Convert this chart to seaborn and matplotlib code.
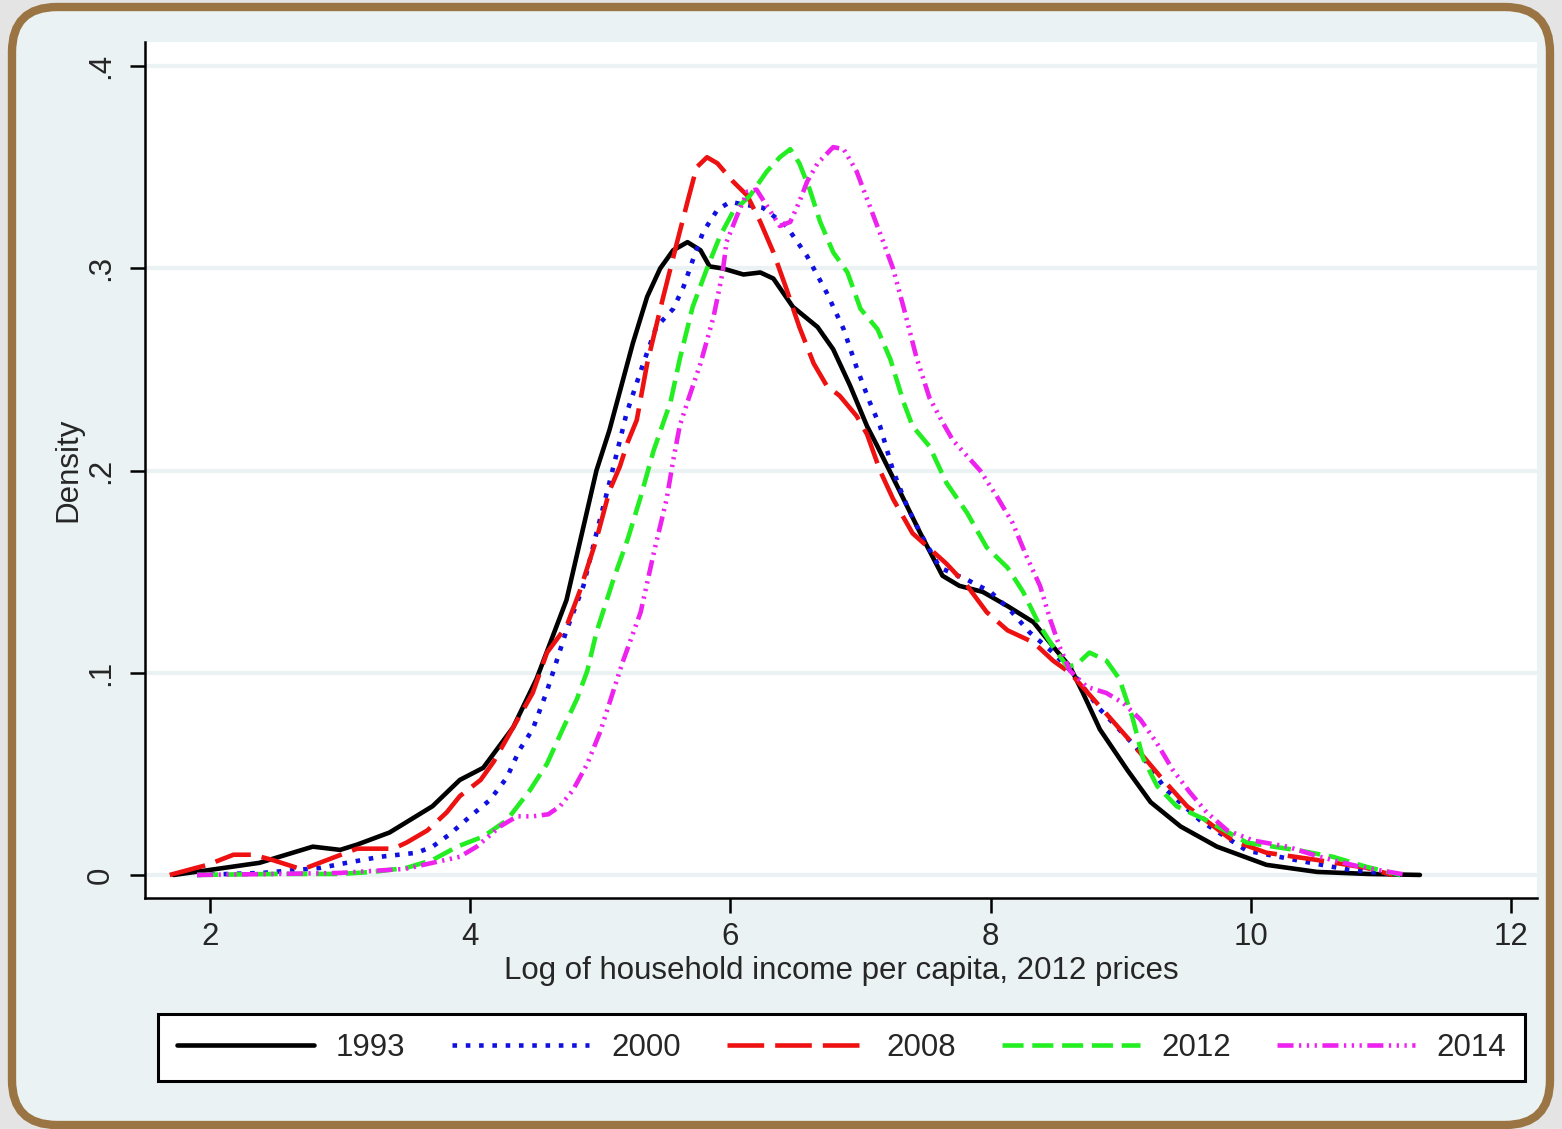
import matplotlib
matplotlib.use("Agg")
import matplotlib.pyplot as plt
from matplotlib.patches import FancyBboxPatch
import seaborn as sns
import pandas as pd

# ---- data (log income, density) ----
x1993 = [1.72, 2.0, 2.38, 2.79, 3.0, 3.13, 3.38, 3.71, 3.92, 4.10, 4.33, 4.51, 4.74, 4.97, 5.07,
         5.25, 5.36, 5.46, 5.56, 5.67, 5.77, 5.84, 5.94, 6.10, 6.23, 6.33, 6.48, 6.67, 6.79, 6.92,
         7.05, 7.13, 7.30, 7.46, 7.63, 7.76, 7.94, 8.13, 8.33, 8.48, 8.61, 8.71, 8.84, 9.05, 9.23,
         9.46, 9.74, 10.12, 10.51, 10.9, 11.30]
y1993 = [0.0, 0.0025, 0.006, 0.014, 0.0124, 0.015, 0.021, 0.034, 0.047, 0.053, 0.073, 0.097, 0.136, 0.2, 0.22,
         0.263, 0.286, 0.30, 0.309, 0.313, 0.309, 0.301, 0.30, 0.297, 0.298, 0.295, 0.281, 0.271, 0.26, 0.242,
         0.222, 0.212, 0.19, 0.169, 0.148, 0.143, 0.14, 0.133, 0.125, 0.113, 0.103, 0.090, 0.072, 0.052, 0.036,
         0.024, 0.014, 0.005, 0.0015, 0.0005, 0.0]

x2000 = [1.9, 2.4, 2.85, 3.05, 3.31, 3.59, 3.71, 3.84, 4.0, 4.15, 4.28, 4.38, 4.48, 4.59, 4.74, 4.87,
         4.97, 5.07, 5.17, 5.20, 5.33, 5.43, 5.56, 5.64, 5.71, 5.79, 5.90, 6.0, 6.07, 6.25, 6.43, 6.59,
         6.74, 6.87, 6.97, 7.07, 7.15, 7.25, 7.36, 7.46, 7.61, 7.82, 8.0, 8.15, 8.30, 8.48, 8.63, 8.84,
         9.12, 9.35, 9.61, 9.97, 10.46, 10.76, 11.15]
y2000 = [0.0, 0.001, 0.0035, 0.006, 0.009, 0.011, 0.014, 0.020, 0.029, 0.037, 0.048, 0.062, 0.072, 0.091, 0.121, 0.143,
         0.169, 0.194, 0.22, 0.228, 0.253, 0.271, 0.28, 0.291, 0.304, 0.318, 0.329, 0.333, 0.332, 0.33, 0.321, 0.306,
         0.288, 0.27, 0.251, 0.234, 0.222, 0.2, 0.182, 0.169, 0.152, 0.146, 0.14, 0.131, 0.12, 0.11, 0.1, 0.082,
         0.063, 0.042, 0.027, 0.012, 0.006, 0.0025, 0.0]

x2008 = [1.69, 1.98, 2.18, 2.33, 2.48, 2.67, 2.74, 2.90, 3.13, 3.41, 3.51, 3.67, 3.82, 3.92, 4.08, 4.18,
         4.33, 4.48, 4.59, 4.74, 4.84, 4.97, 5.07, 5.15, 5.21, 5.28, 5.36, 5.48, 5.59, 5.67, 5.74, 5.82,
         5.90, 6.02, 6.13, 6.23, 6.33, 6.43, 6.53, 6.64, 6.74, 6.84, 6.97, 7.05, 7.15, 7.25, 7.40, 7.66,
         7.82, 7.97, 8.13, 8.33, 8.48, 8.61, 8.79, 9.05, 9.30, 9.51, 9.86, 10.12, 10.51, 10.89, 11.09]
y2008 = [0.0, 0.005, 0.01, 0.01, 0.0074, 0.0035, 0.0035, 0.0074, 0.013, 0.013, 0.016, 0.022, 0.031, 0.039, 0.047, 0.056,
         0.073, 0.09, 0.11, 0.123, 0.14, 0.166, 0.19, 0.202, 0.214, 0.225, 0.253, 0.285, 0.313, 0.333, 0.35, 0.355,
         0.352, 0.343, 0.336, 0.323, 0.308, 0.29, 0.271, 0.253, 0.242, 0.237, 0.227, 0.218, 0.2, 0.186, 0.169, 0.154,
         0.143, 0.13, 0.121, 0.115, 0.106, 0.1, 0.087, 0.068, 0.049, 0.034, 0.017, 0.011, 0.0074, 0.0035, 0.0]

x2012 = [1.9, 2.5, 3.0, 3.25, 3.51, 3.71, 3.90, 4.10, 4.28, 4.46, 4.59, 4.71, 4.82, 4.90, 4.97, 5.10,
         5.21, 5.31, 5.41, 5.54, 5.61, 5.71, 5.82, 5.92, 6.02, 6.15, 6.28, 6.38, 6.46, 6.53, 6.61, 6.69,
         6.79, 6.90, 7.0, 7.13, 7.23, 7.33, 7.40, 7.53, 7.66, 7.82, 7.97, 8.13, 8.25, 8.38, 8.48, 8.59,
         8.66, 8.76, 8.89, 8.99, 9.09, 9.17, 9.28, 9.43, 9.66, 9.97, 10.38, 10.63, 10.89, 11.15]
y2012 = [0.0, 0.0005, 0.0005, 0.0015, 0.0035, 0.0074, 0.014, 0.019, 0.027, 0.042, 0.055, 0.072, 0.087, 0.101, 0.12, 0.146,
         0.166, 0.187, 0.21, 0.234, 0.255, 0.281, 0.30, 0.316, 0.328, 0.336, 0.348, 0.355, 0.359, 0.352, 0.339, 0.323,
         0.308, 0.298, 0.28, 0.27, 0.255, 0.234, 0.222, 0.212, 0.194, 0.179, 0.162, 0.152, 0.14, 0.123, 0.113, 0.103,
         0.104, 0.11, 0.106, 0.097, 0.078, 0.058, 0.044, 0.034, 0.027, 0.016, 0.012, 0.009, 0.004, 0.0]

x2014 = [1.9, 2.5, 3.0, 3.5, 3.92, 4.05, 4.23, 4.36, 4.48, 4.60, 4.69, 4.79, 4.90, 5.0, 5.10, 5.17,
         5.31, 5.41, 5.51, 5.56, 5.61, 5.67, 5.77, 5.87, 5.94, 5.97, 6.05, 6.13, 6.20, 6.28, 6.38, 6.46,
         6.53, 6.59, 6.67, 6.79, 6.87, 6.97, 7.07, 7.17, 7.25, 7.33, 7.43, 7.53, 7.63, 7.71, 7.92, 8.05,
         8.17, 8.28, 8.38, 8.46, 8.53, 8.61, 8.74, 8.89, 9.02, 9.15, 9.28, 9.40, 9.53, 9.66, 9.82, 10.02,
         10.28, 10.53, 10.84, 11.2]
y2014 = [0.0, 0.0005, 0.001, 0.003, 0.009, 0.014, 0.024, 0.029, 0.029, 0.030, 0.034, 0.042, 0.055, 0.071, 0.091, 0.105,
         0.13, 0.159, 0.186, 0.205, 0.222, 0.234, 0.253, 0.276, 0.298, 0.313, 0.326, 0.338, 0.339, 0.331, 0.321, 0.323,
         0.333, 0.343, 0.352, 0.36, 0.359, 0.348, 0.331, 0.314, 0.30, 0.281, 0.256, 0.236, 0.224, 0.215, 0.2, 0.187,
         0.174, 0.157, 0.143, 0.126, 0.113, 0.101, 0.093, 0.09, 0.085, 0.077, 0.065, 0.052, 0.041, 0.031, 0.022, 0.017,
         0.014, 0.009, 0.004, 0.0]

years = ["1993", "2000", "2008", "2012", "2014"]
xs = [x1993, x2000, x2008, x2012, x2014]
ys = [y1993, y2000, y2008, y2012, y2014]

yticks = [0, 0.1, 0.2, 0.3, 0.4]
ytick_labels = ["0", ".1", ".2", ".3", ".4"]
xticks = [2, 4, 6, 8, 10, 12]

# ---- styling ----
colors = {"1993": "#000000", "2000": "#1010e0", "2008": "#ee1111", "2012": "#22ee22", "2014": "#ee22ee"}
dash_map = {
    "1993": None,
    "2000": (1.0, 1.9),
    "2008": (8.0, 2.4),
    "2012": (4.6, 1.9),
    "2014": (3.5, 1.2, 0.5, 1.2, 0.5, 1.2, 0.5, 1.2),
}
FS = 22.5

sns.set_style("white")
plt.rcParams['font.family'] = ['Liberation Sans', 'DejaVu Sans']

fig = plt.figure(figsize=(15.62, 11.29), dpi=100)
fig.patch.set_facecolor("#e4e4e4")

W, H = 15.62, 11.29
border = FancyBboxPatch((0.12, 0.04), W - 0.24, H - 0.11,
                        boxstyle="round,pad=0,rounding_size=0.45",
                        transform=fig.dpi_scale_trans, facecolor="#eaf2f3",
                        edgecolor="#9a7442", linewidth=6, zorder=-10)
fig.add_artist(border)

ax = fig.add_axes([145 / 1562, 1 - 898 / 1129, (1537 - 145) / 1562, (898 - 42) / 1129])
ax.set_zorder(1)
ax.set_facecolor("white")

df = pd.concat([pd.DataFrame({"x": x, "y": y, "year": yr}) for x, y, yr in zip(xs, ys, years)],
               ignore_index=True)

for yr in years:
    sub = df[df["year"] == yr]
    sns.lineplot(data=sub, x="x", y="y", ax=ax, color=colors[yr], lw=3.3,
                 estimator=None, sort=False, label=yr, zorder=3)
    line = ax.get_lines()[-1]
    if dash_map[yr] is not None:
        line.set_dashes(dash_map[yr])
    line.set_dash_capstyle("butt")

ax.set_xlim(1.5, 12.2)
ax.set_ylim(-0.0114, 0.412)
ax.set_xticks(xticks)
ax.set_yticks(yticks)
ax.set_yticklabels(ytick_labels)
ax.grid(axis="y", color="#eaf2f3", lw=3, zorder=0)
ax.grid(axis="x", visible=False)
ax.set_axisbelow(True)

for s in ["top", "right"]:
    ax.spines[s].set_visible(False)
for s in ["left", "bottom"]:
    ax.spines[s].set_color("black")
    ax.spines[s].set_linewidth(1.8)

ax.tick_params(axis="both", which="major", direction="out", length=11, width=1.8,
               color="black", labelsize=FS, left=True, bottom=True)
ax.tick_params(axis="y", labelrotation=90, pad=10)
ax.tick_params(axis="x", pad=6)
for t in ax.get_yticklabels():
    t.set_va("center")

ax.set_xlabel("Log of household income per capita, 2012 prices", fontsize=FS, labelpad=3)
ax.set_ylabel("Density", fontsize=FS, labelpad=2)

leg = ax.legend(loc="center", bbox_to_anchor=(158 / 1562, 1 - 1085 / 1129, 1367 / 1562, 75 / 1129),
                bbox_transform=fig.transFigure, mode="expand", ncol=5, fontsize=FS,
                handlelength=4.4, handletextpad=0.7, frameon=True, fancybox=False,
                borderaxespad=0, borderpad=0.6)
leg.get_frame().set_edgecolor("black")
leg.get_frame().set_linewidth(2.2)
leg.get_frame().set_facecolor("white")
leg.get_frame().set_alpha(1)

fig.savefig("out.png", dpi=100, facecolor=fig.get_facecolor())
